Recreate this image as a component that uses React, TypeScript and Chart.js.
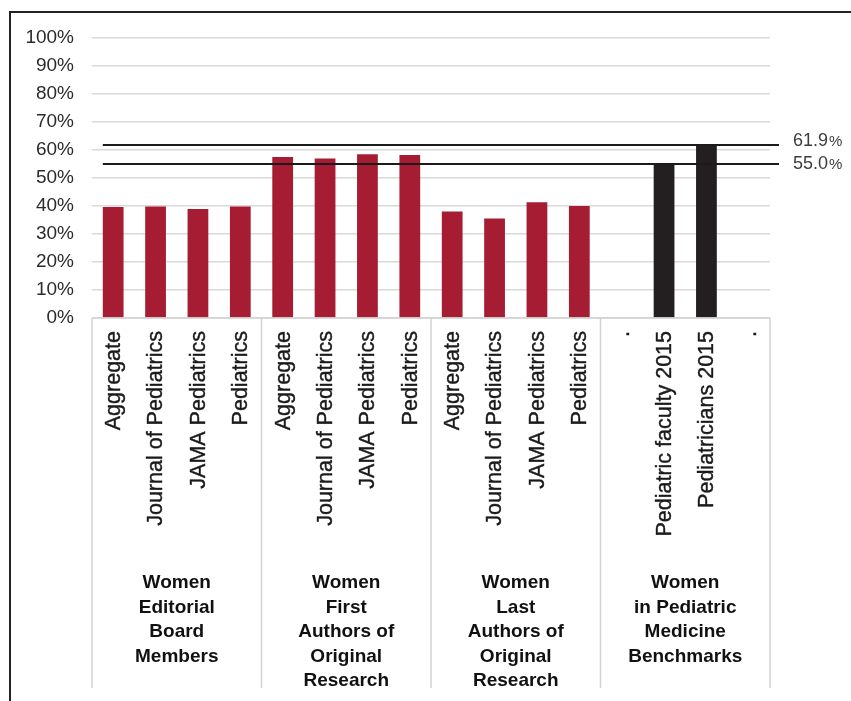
import React, { useEffect, useRef } from "react";
import { Chart, registerables } from "chart.js";

Chart.register(...registerables);

// ---- data ----
const categories = [
  "Aggregate", "Journal of Pediatrics", "JAMA Pediatrics", "Pediatrics",
  "Aggregate", "Journal of Pediatrics", "JAMA Pediatrics", "Pediatrics",
  "Aggregate", "Journal of Pediatrics", "JAMA Pediatrics", "Pediatrics",
  ".", "Pediatric faculty 2015", "Pediatricians 2015", ".",
];
const groupLabels = [
  ["Women", "Editorial", "Board", "Members"],
  ["Women", "First", "Authors of", "Original", "Research"],
  ["Women", "Last", "Authors of", "Original", "Research"],
  ["Women", "in Pediatric", "Medicine", "Benchmarks"],
];
const groupSize = 4;
const publicationValues = [
  39.6, 39.8, 38.9, 39.8,
  57.5, 57.0, 58.5, 58.2,
  38.0, 35.5, 41.3, 40.0,
  null, null, null, null,
];
const benchmarkValues = [
  null, null, null, null,
  null, null, null, null,
  null, null, null, null,
  null, 55.0, 61.9, null,
];
const referenceValues = [61.9, 55.0];
const yMin = 0;
const yMax = 100;
const yStep = 10;

const FONT = "'Liberation Sans', Arial, Helvetica, sans-serif";

const overlayPlugin = {
  id: "overlay",
  afterDatasetsDraw(chart: any) {
    const { ctx, chartArea, scales } = chart;
    const y = scales.y;
    const first = chart.getDatasetMeta(0).data[0];
    const startX = first.x - first.width / 2;
    const labelOffsets = [-4, 0];
    ctx.save();
    referenceValues.forEach((v, i) => {
      const py = Math.round(y.getPixelForValue(v));
      ctx.strokeStyle = "#1b1b1b";
      ctx.lineWidth = 2;
      ctx.beginPath();
      ctx.moveTo(startX, py);
      ctx.lineTo(chartArea.right + 9, py);
      ctx.stroke();
      const num = v.toFixed(1);
      const lx = chartArea.right + 23;
      const ly = py + labelOffsets[i];
      ctx.fillStyle = "#3c3c3c";
      ctx.textAlign = "left";
      ctx.textBaseline = "middle";
      ctx.font = `18px ${FONT}`;
      ctx.fillText(num, lx, ly);
      const w = ctx.measureText(num).width;
      ctx.font = `15px ${FONT}`;
      ctx.fillText("%", lx + w + 1, ly + 1);
    });
    ctx.restore();
  },
  afterDraw(chart: any) {
    const { ctx, chartArea, scales } = chart;
    const x = scales.x;
    const bottom = chartArea.bottom;
    const sepBottom = 688;
    ctx.save();
    // axis line
    ctx.strokeStyle = "#d2d2d2";
    ctx.lineWidth = 1.5;
    ctx.beginPath();
    ctx.moveTo(chartArea.left, bottom);
    ctx.lineTo(chartArea.right, bottom);
    ctx.stroke();
    // group separators
    const nGroups = Math.ceil(categories.length / groupSize);
    const bounds: number[] = [chartArea.left];
    for (let g = 1; g < nGroups; g++) {
      const a = x.getPixelForValue(g * groupSize - 1);
      const b = x.getPixelForValue(g * groupSize);
      bounds.push((a + b) / 2);
    }
    bounds.push(chartArea.right);
    bounds.forEach((bx) => {
      ctx.beginPath();
      ctx.moveTo(bx, bottom);
      ctx.lineTo(bx, sepBottom);
      ctx.stroke();
    });
    // rotated category labels
    ctx.fillStyle = "#1a1a1a";
    ctx.strokeStyle = "#1a1a1a";
    ctx.lineWidth = 0.4;
    ctx.font = `21.5px ${FONT}`;
    ctx.textAlign = "right";
    ctx.textBaseline = "middle";
    categories.forEach((label, i) => {
      const cx = x.getPixelForValue(i);
      ctx.save();
      ctx.translate(cx + 1, bottom + 13);
      ctx.rotate(-Math.PI / 2);
      ctx.fillText(label, 0, 0);
      ctx.strokeText(label, 0, 0);
      ctx.restore();
    });
    // group labels
    ctx.font = `bold 19px ${FONT}`;
    ctx.textAlign = "center";
    ctx.fillStyle = "#111";
    groupLabels.forEach((lines, g) => {
      const cx = (bounds[g] + bounds[g + 1]) / 2;
      lines.forEach((line, j) => {
        ctx.fillText(line, cx, 583 + j * 24.5);
      });
    });
    // frame
    ctx.fillStyle = "#222";
    ctx.fillRect(9, 11, chart.width, 2);
    ctx.fillRect(9, 11, 2, chart.height);
    ctx.restore();
  },
};

export default function App() {
  const canvasRef = useRef<HTMLCanvasElement | null>(null);

  useEffect(() => {
    const canvas = canvasRef.current;
    if (!canvas) return;
    const chart = new Chart(canvas, {
      type: "bar",
      data: {
        labels: categories,
        datasets: [
          {
            label: "Women authors / editors",
            data: publicationValues as any,
            backgroundColor: "#A51C33",
            barPercentage: 0.49,
            categoryPercentage: 1,
            grouped: false,
          } as any,
          {
            label: "Benchmarks",
            data: benchmarkValues as any,
            backgroundColor: "#231F20",
            barPercentage: 0.49,
            categoryPercentage: 1,
            grouped: false,
          } as any,
        ],
      },
      options: {
        animation: false,
        responsive: true,
        maintainAspectRatio: false,
        devicePixelRatio: 1,
        layout: { padding: { top: 38, right: 81, bottom: 0, left: 0 } },
        plugins: {
          legend: { display: false },
          tooltip: { enabled: false },
        },
        scales: {
          x: {
            type: "category",
            grid: { display: false },
            border: { display: false },
            ticks: { display: false },
            afterFit: (scale: any) => {
              scale.height = 383;
            },
          },
          y: {
            min: yMin,
            max: yMax,
            grid: { color: "#d9d9d9", lineWidth: 1.5, drawTicks: false },
            border: { display: false },
            ticks: {
              stepSize: yStep,
              padding: 18,
              color: "#2b2b2b",
              font: { family: FONT, size: 19 },
              callback: (v: any) => `${v}%`,
            },
            afterFit: (scale: any) => {
              scale.width = 92;
            },
          },
        },
      } as any,
      plugins: [overlayPlugin],
    });
    return () => chart.destroy();
  }, []);

  return (
    <div style={{ position: "absolute", left: 0, top: 0, width: 851, height: 701, background: "#fff" }}>
      <canvas ref={canvasRef} />
    </div>
  );
}
